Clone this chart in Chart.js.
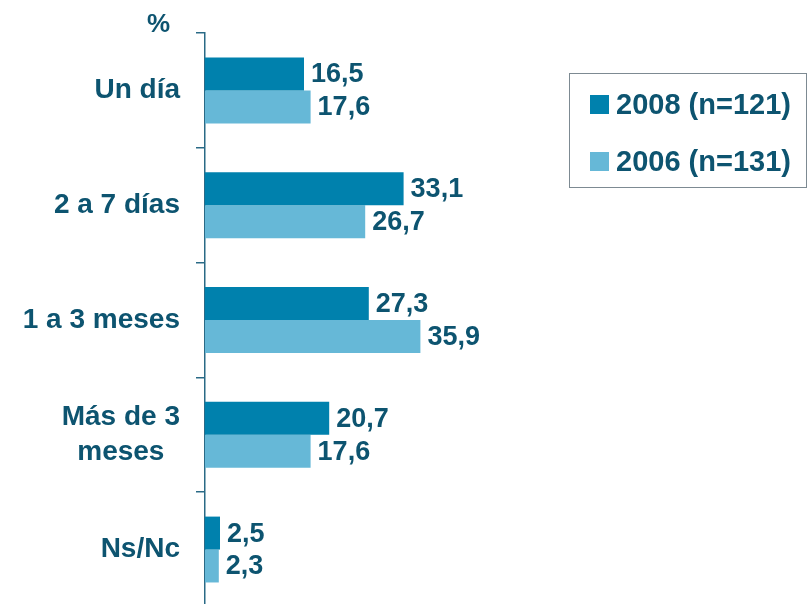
<!DOCTYPE html>
<html>
<head>
<meta charset="utf-8">
<script src="https://cdn.jsdelivr.net/npm/chart.js@4/dist/chart.umd.min.js"></script>
<style>
  html, body { margin: 0; padding: 0; background: #fff; overflow: hidden; width: 811px; height: 604px; }
  #wrap { position: relative; width: 811px; height: 604px; overflow: hidden; }
  #c { position: absolute; left: 0; top: 0; }
  .txt { font-family: "Liberation Sans", Arial, sans-serif; font-weight: bold; color: #0d5470; }
  #unit { position: absolute; left: 147px; top: 8px; font-size: 26px; line-height: 30px; }
  #legend { position: absolute; left: 569px; top: 73px; width: 236px; height: 113px; border: 1px solid #7d8a92; }
  .item { position: absolute; left: 20px; height: 30px; line-height: 30px; font-size: 29px; white-space: nowrap; }
  .sw { display: inline-block; width: 19px; height: 19px; vertical-align: middle; margin-right: 7px; position: relative; top: -2px; }
</style>
</head>
<body>
<div id="wrap">
  <canvas id="c" width="811" height="640"></canvas>
  <div id="unit" class="txt">%</div>
  <div id="legend" class="txt"></div>
</div>
<script>
const categories = ["Un día", "2 a 7 días", "1 a 3 meses", ["Más de 3", "meses\u00A0\u00A0"], "Ns/Nc"];
const seriesNames = ["2008 (n=121)", "2006 (n=131)"];
const values2008 = [16.5, 33.1, 27.3, 20.7, 2.5];
const values2006 = [17.6, 26.7, 35.9, 17.6, 2.3];
const colors = ["#0081ad", "#66b8d7"];
const textColor = "#0d5470";
const fontFamily = '"Liberation Sans", Arial, sans-serif';

const valueLabels = {
  id: 'valueLabels',
  afterDatasetsDraw(chart) {
    const ctx = chart.ctx;
    ctx.save();
    ctx.font = 'bold 27px ' + fontFamily;
    ctx.fillStyle = textColor;
    ctx.textAlign = 'left';
    ctx.textBaseline = 'middle';
    chart.data.datasets.forEach((ds, i) => {
      chart.getDatasetMeta(i).data.forEach((bar, j) => {
        const v = ds.data[j];
        ctx.fillText(v.toFixed(1).replace('.', ','), bar.x + 7, bar.y + 1);
      });
    });
    ctx.restore();
  }
};

const chart = new Chart(document.getElementById('c'), {
  type: 'bar',
  data: {
    labels: categories,
    datasets: [
      { label: seriesNames[0], data: values2008, backgroundColor: colors[0], borderWidth: 0 },
      { label: seriesNames[1], data: values2006, backgroundColor: colors[1], borderWidth: 0 }
    ]
  },
  options: {
    indexAxis: 'y',
    responsive: false,
    animation: false,
    devicePixelRatio: 1,
    layout: { padding: { top: 32, right: 6, bottom: 0, left: 0 } },
    datasets: { bar: { barPercentage: 1, categoryPercentage: 0.574 } },
    plugins: { legend: { display: false }, tooltip: { enabled: false } },
    scales: {
      x: { display: false, min: 0, max: 100 },
      y: {
        afterFit(scale) { scale.width = 205; },
        grid: { display: true, drawOnChartArea: false, drawTicks: true, tickLength: 9, color: '#2a6a86', lineWidth: 1.5, offset: true },
        border: { display: true, color: '#2a6a86', width: 1.5 },
        ticks: { color: textColor, padding: 16, font: { family: fontFamily, size: 28, weight: 'bold', lineHeight: 1.22 }, autoSkip: false }
      }
    }
  },
  plugins: [valueLabels]
});

const legend = document.getElementById('legend');
seriesNames.forEach((name, i) => {
  const d = document.createElement('div');
  d.className = 'item';
  d.style.top = (15 + i * 57) + 'px';
  d.innerHTML = '<span class="sw" style="background:' + colors[i] + '"></span>' + name;
  legend.appendChild(d);
});
</script>
</body>
</html>
